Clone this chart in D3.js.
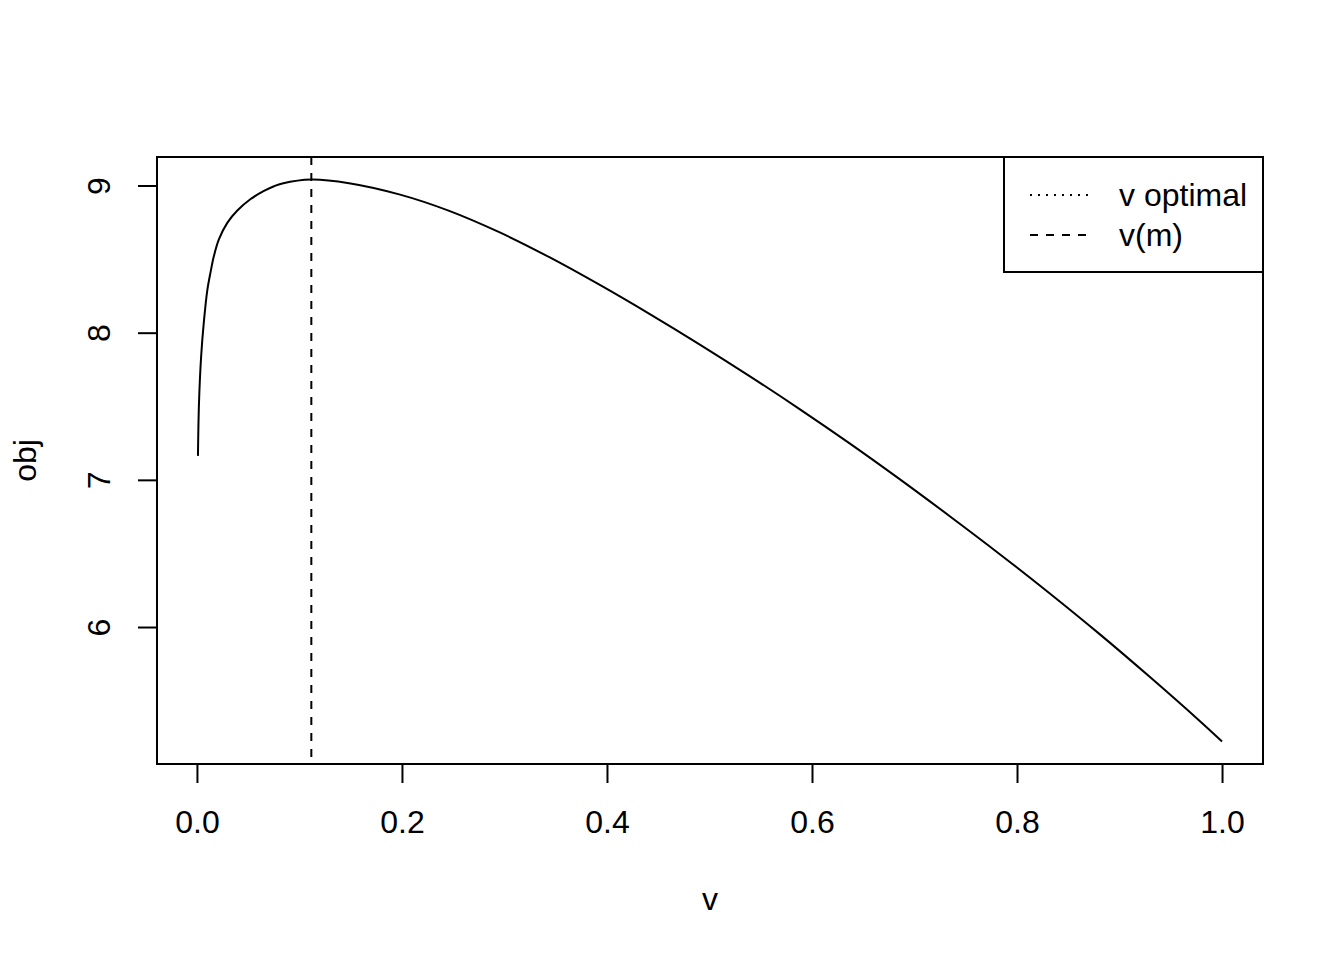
<!DOCTYPE html>
<html>
<head>
<meta charset="utf-8">
<script src="https://cdn.jsdelivr.net/npm/d3@7"></script>
<style>
  html, body { margin: 0; padding: 0; background: #fff; }
  svg { display: block; }
  text { font-family: "Liberation Sans", Arial, Helvetica, sans-serif; fill: #000; }
</style>
</head>
<body>
<script>
// ---- data ----
const vValues = [0.001, 0.002, 0.0042, 0.0068, 0.0101, 0.0134, 0.0166, 0.0215, 0.0296, 0.0394,
  0.0524, 0.0654, 0.0752, 0.0833, 0.1116, 0.1484, 0.1973, 0.2461, 0.2949, 0.3438,
  0.3926, 0.4414, 0.4902, 0.5391, 0.5879, 0.6367, 0.6855, 0.7344, 0.7832, 0.8320,
  0.8809, 0.9297, 0.9785, 1.0];
const objValues = [7.163, 7.522, 7.850, 8.077, 8.288, 8.415, 8.522, 8.635, 8.746, 8.830,
  8.908, 8.963, 8.995, 9.014, 9.041, 9.016, 8.940, 8.828, 8.683, 8.513,
  8.326, 8.128, 7.921, 7.705, 7.481, 7.248, 7.005, 6.753, 6.495, 6.228,
  5.950, 5.660, 5.360, 5.222];
const vM = 0.1116;
const xTicks = [0, 0.2, 0.4, 0.6, 0.8, 1.0];
const yTicks = [6, 7, 8, 9];
const legendLabels = ["v optimal", "v(m)"];
const xLabel = "v";
const yLabel = "obj";

// ---- layout ----
const W = 1344, H = 960;
const L = 157, R = 1263, T = 157, B = 764;
const fs = 32;

const svg = d3.select("body").append("svg").attr("width", W).attr("height", H);

function pad(ext) { const d = (ext[1] - ext[0]) * 0.04; return [ext[0] - d, ext[1] + d]; }
const x = d3.scaleLinear().domain(pad(d3.extent(vValues))).range([L, R]);
const y = d3.scaleLinear().domain(pad(d3.extent(objValues))).range([B, T]);

// plot box
svg.append("rect").attr("x", L).attr("y", T).attr("width", R - L).attr("height", B - T)
  .attr("fill", "none").attr("stroke", "#000").attr("stroke-width", 2);

// x axis
const xAxis = d3.axisBottom(x).tickValues(xTicks).tickFormat(d3.format(".1f")).tickSize(19).tickPadding(12);
const gx = svg.append("g").attr("transform", `translate(0,${B})`).call(xAxis);
gx.select(".domain").attr("d", `M${x(0)},0H${x(1)}`).attr("stroke-width", 2);
gx.selectAll(".tick line").attr("stroke-width", 2);
gx.selectAll(".tick text").attr("font-size", fs).attr("font-family", "Liberation Sans, Arial, sans-serif")
  .attr("y", null).attr("dy", null).attr("transform", "translate(0,69)");

// y axis
const yAxis = d3.axisLeft(y).tickValues(yTicks).tickFormat(d3.format("d")).tickSize(19);
const gy = svg.append("g").attr("transform", `translate(${L},0)`).call(yAxis);
gy.select(".domain").attr("d", `M0,${y(6)}V${y(9)}`).attr("stroke-width", 2);
gy.selectAll(".tick line").attr("stroke-width", 2);
gy.selectAll(".tick text").attr("font-size", fs).attr("font-family", "Liberation Sans, Arial, sans-serif")
  .attr("x", null).attr("dy", null).attr("text-anchor", "middle")
  .attr("transform", "translate(-47,0) rotate(-90)");

// axis labels
svg.append("text").attr("x", (L + R) / 2).attr("y", 910).attr("text-anchor", "middle")
  .attr("font-size", fs).text(xLabel);
svg.append("text").attr("transform", `translate(36,${(T + B) / 2}) rotate(-90)`)
  .attr("text-anchor", "middle").attr("font-size", fs).text(yLabel);

// curve
const line = d3.line().x((d, i) => x(vValues[i])).y((d, i) => y(objValues[i])).curve(d3.curveCatmullRom.alpha(0.5));
svg.append("path").datum(objValues).attr("d", line).attr("fill", "none")
  .attr("stroke", "#000").attr("stroke-width", 2);

// v(m) vertical dashed line
svg.append("line").attr("x1", x(vM)).attr("x2", x(vM)).attr("y1", T).attr("y2", B)
  .attr("stroke", "#000").attr("stroke-width", 2).attr("stroke-dasharray", "8,8");

// legend
const lg = svg.append("g");
lg.append("rect").attr("x", 1004).attr("y", T).attr("width", R - 1004).attr("height", 272 - T)
  .attr("fill", "#fff").attr("stroke", "#000").attr("stroke-width", 2);
const dashes = ["2,6", "8,8"];
legendLabels.forEach((lab, i) => {
  const cy = 195 + i * 40;
  lg.append("line").attr("x1", 1030).attr("x2", 1090).attr("y1", cy).attr("y2", cy)
    .attr("stroke", "#000").attr("stroke-width", 2).attr("stroke-dasharray", dashes[i]);
  lg.append("text").attr("x", 1119).attr("y", cy + 11).attr("font-size", fs).text(lab);
});
</script>
</body>
</html>
